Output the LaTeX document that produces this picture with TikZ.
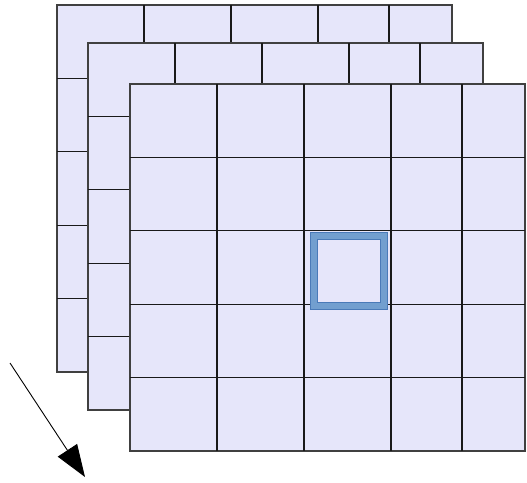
\documentclass[tikz,border=0pt]{standalone}
\usepackage{tikz}
\usetikzlibrary{arrows.meta}
\definecolor{cellfill}{HTML}{E6E6FA}
\definecolor{hlfill}{HTML}{729FCF}
\definecolor{hledge}{HTML}{4A7AB8}

\begin{document}
\begin{tikzpicture}[
    x=1pt, y=-1pt,
    sheet/.style={fill=cellfill, draw=black!75, line width=1.3pt},
    gl/.style={draw=black!90, line width=1.1pt},
    hl/.style={draw=hledge, line width=8.5pt},
    hlin/.style={draw=hlfill, line width=6.5pt},
    ar/.style={-{Triangle[length=32pt, width=23pt]}, line width=0.9pt}
  ]
    \useasboundingbox (0,0) rectangle (527,482);
    % ---- three stacked 5x5 sheets, back to front ----
    \foreach \ox/\oy in {57/5, 88/43, 130/84} {
      \draw[sheet] (\ox,\oy) rectangle ++(395,367);
      \foreach \cx in {87,174,261,332}
        \draw[gl] (\ox+\cx,\oy) -- ++(0,367);
      \foreach \ry in {73.4,146.8,220.2,293.6}
        \draw[gl] (\ox,\oy+\ry) -- ++(395,0);
    }
    % ---- marked cell ----
    \draw[hl] (314,236) rectangle (384,306);
    \draw[hlin] (314,236) rectangle (384,306);
    % ---- arrow ----
    \coordinate (arrtail) at (10,363);
    \coordinate (arrhead) at (85,477);
    \draw[ar] (arrtail) -- (arrhead);
  \end{tikzpicture}
\end{document}
